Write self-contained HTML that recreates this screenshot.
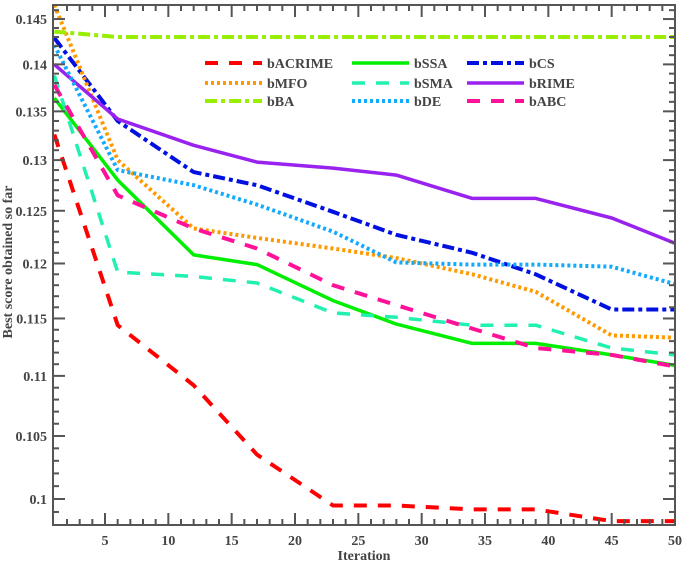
<!DOCTYPE html>
<html><head><meta charset="utf-8"><style>
body{margin:0;background:#fff;}
svg text{font-family:"Liberation Serif",serif;font-weight:bold;fill:#444;}
</style></head><body>
<svg id="chart" width="685" height="564" xmlns="http://www.w3.org/2000/svg">
<g id="grid"></g>
<g id="series"></g>
<g id="axes"></g>
<g id="legend"></g>
</svg>
<script>
const iterations=[1,6,12,17,23,28,34,39,45,50];
const bACRIME=[0.1326,0.1144,0.1092,0.1035,0.0995,0.0995,0.0992,0.0992,0.0983,0.0983];
const bSSA=[0.1364,0.1280,0.1208,0.1199,0.1166,0.1145,0.1128,0.1128,0.1118,0.1109];
const bCS=[0.1429,0.1340,0.1288,0.1275,0.1249,0.1227,0.1210,0.1190,0.1158,0.1158];
const bMFO=[0.1466,0.1300,0.1233,0.1224,0.1214,0.1205,0.1190,0.1174,0.1135,0.1133];
const bSMA=[0.1388,0.1192,0.1188,0.1182,0.1155,0.1151,0.1144,0.1144,0.1124,0.1118];
const bRIME=[0.1400,0.1342,0.1315,0.1298,0.1292,0.1285,0.1262,0.1262,0.1243,0.1219];
const bBA=[0.1436,0.1430,0.1430,0.1430,0.1430,0.1430,0.1430,0.1430,0.1430,0.1430];
const bDE=[0.1421,0.1290,0.1275,0.1256,0.1230,0.1201,0.1199,0.1199,0.1197,0.1181];
const bABC=[0.1378,0.1265,0.1233,0.1214,0.1180,0.1162,0.1141,0.1124,0.1118,0.1108];
const yTicks=[0.1,0.105,0.11,0.115,0.12,0.125,0.13,0.135,0.14,0.145];
const xTicks=[5,10,15,20,25,30,35,40,45,50];

const NS="http://www.w3.org/2000/svg";
const L=53,R=675,T=5,B=525;
function xs(v){return 105+(v-5)*12.667;}
function ys(v){return 499-1291.7*Math.log(v/0.1);}
function mk(tag,attrs,parent){const e=document.createElementNS(NS,tag);for(const k in attrs)e.setAttribute(k,attrs[k]);parent.appendChild(e);return e;}

const seriesDefs=[
 {name:'bACRIME',data:bACRIME,color:'#ff0000',dash:'13 11',w:4},
 {name:'bSSA',data:bSSA,color:'#00ee00',dash:'',w:3.5},
 {name:'bCS',data:bCS,color:'#0010e0',dash:'12 4 4 4',w:4},
 {name:'bMFO',data:bMFO,color:'#ff9900',dash:'3 3',w:4},
 {name:'bSMA',data:bSMA,color:'#20f0b0',dash:'13 11',w:3.5},
 {name:'bRIME',data:bRIME,color:'#9922ee',dash:'',w:3.5},
 {name:'bBA',data:bBA,color:'#99ee00',dash:'12 4 4 4',w:4},
 {name:'bDE',data:bDE,color:'#11aaff',dash:'3 3',w:4},
 {name:'bABC',data:bABC,color:'#ff1199',dash:'13 11',w:4}
];
const sg=document.getElementById('series');
seriesDefs.forEach(s=>{
 const pts=s.data.map((v,i)=>xs(iterations[i]).toFixed(1)+','+ys(v).toFixed(1)).join(' ');
 const p=mk('polyline',{points:pts,fill:'none',stroke:s.color,'stroke-width':s.w,'stroke-dasharray':s.dash,'stroke-linejoin':'round'},sg);
 
 
});

const ag=document.getElementById('axes');
const box=mk('rect',{x:L,y:T,width:R-L,height:B-T,fill:'none',stroke:'#555','stroke-width':2},ag);


for(let v=2;v<=49;v++){
 const big=v%5===0, len=big?12:6;
 mk('line',{x1:xs(v),x2:xs(v),y1:B,y2:B-len,stroke:'#555','stroke-width':2},ag);
 mk('line',{x1:xs(v),x2:xs(v),y1:T,y2:T+len,stroke:'#555','stroke-width':2},ag);
}
xTicks.forEach(v=>{
 const t=mk('text',{x:xs(v),y:545,'text-anchor':'middle','font-size':14},ag);
 t.textContent=v;
 
 
});
for(let k=98;k<=146;k++){
 const v=k/1000, big=k%5===0, len=big?12:6, y=ys(v);
 if(y<T||y>B)continue;
 mk('line',{x1:L,x2:L+len,y1:y,y2:y,stroke:'#555','stroke-width':2},ag);
 mk('line',{x1:R,x2:R-len,y1:y,y2:y,stroke:'#555','stroke-width':2},ag);
}
yTicks.forEach(v=>{
 const t=mk('text',{x:47,y:ys(v)+5,'text-anchor':'end','font-size':14},ag);
 t.textContent=String(v);
 
 
});
const xt=mk('text',{x:364,y:560,'text-anchor':'middle','font-size':14},ag);
xt.textContent='Iteration';


const yt=mk('text',{x:0,y:0,'text-anchor':'middle','font-size':14,transform:'translate(12,262) rotate(-90)'},ag);
yt.textContent='Best score obtained so far';



const lg=document.getElementById('legend');
const cols=[205,352,467], rows=[63,83,101];
const order=['bACRIME','bSSA','bCS','bMFO','bSMA','bRIME','bBA','bDE','bABC'];
order.forEach((n,i)=>{
 const s=seriesDefs.find(d=>d.name===n);
 const x=cols[i%3], y=rows[Math.floor(i/3)];
 const g=mk('g',{},lg);
 
 
 mk('line',{x1:x,x2:x+57,y1:y,y2:y,stroke:s.color,'stroke-width':s.w,'stroke-dasharray':s.dash},g);
 const t=mk('text',{x:x+62,y:y+5,'font-size':14,fill:'#333'},g);
 t.textContent=n;
});
</script>
</body></html>
